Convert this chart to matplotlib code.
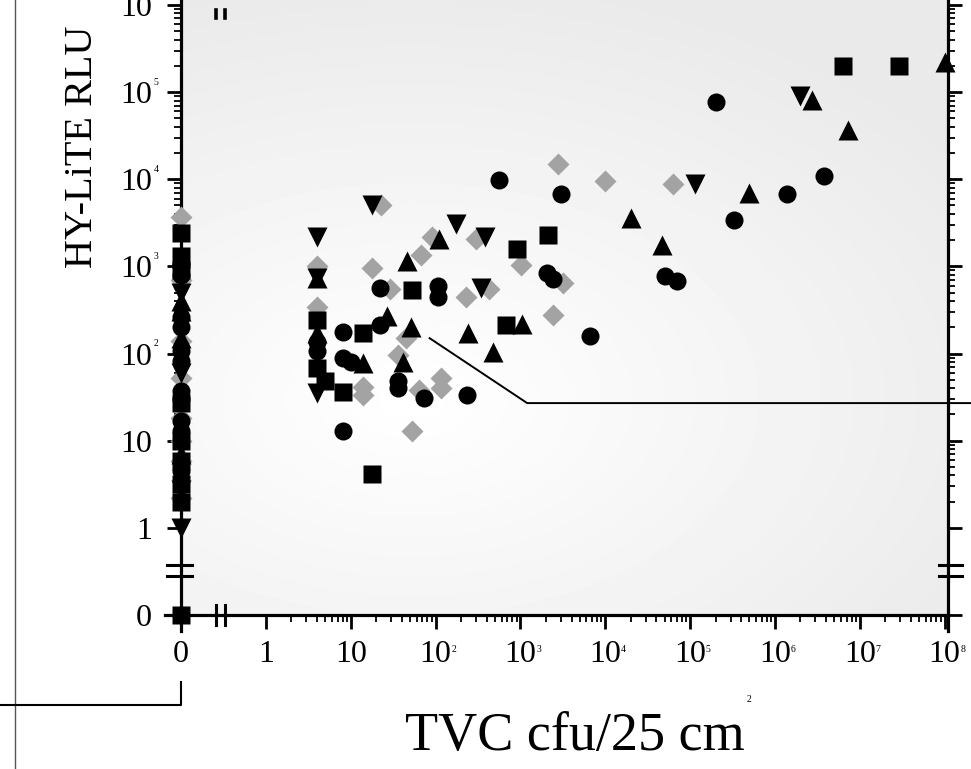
import numpy as np
import matplotlib
matplotlib.use("Agg")
import matplotlib.pyplot as plt
from matplotlib.lines import Line2D
from matplotlib.ticker import FixedLocator, FixedFormatter

plt.rcParams['font.family'] = ['Liberation Serif', 'DejaVu Serif']

# ---------------- data (TVC cfu/25 cm2 , HY-LiTE RLU) ----------------
circle_x = [0, 0, 0, 0, 0, 0, 0, 0, 0, 0, 0,
            4, 4, 8, 8, 10, 8, 22, 22, 36, 36, 73, 107, 107, 235,
            560, 3000, 2050, 2400, 6600, 5.0e4, 7.0e4, 2.0e5, 3.3e5, 1.4e6, 3.8e6]
circle_y = [1000, 800, 260, 200, 108, 83, 37, 30, 17, 13, 4.5,
            134, 108, 175, 90, 79, 13, 570, 210, 49, 40, 31, 600, 440, 33,
            9700, 6700, 850, 720, 160, 770, 680, 7.7e4, 3400, 6700, 1.1e4]

square_x = [0, 0, 0, 0, 0, 0, 0, 0, 0,
            4, 4, 5, 8, 14, 53, 18, 900, 2100, 680, 6.3e6, 2.9e7]
square_y = [2400, 1330, 900, 27, 10, 5.9, 3.2, 2.0, 0,
            240, 69, 49, 36, 170, 530, 4.2, 1600, 2300, 210, 2.0e5, 2.0e5]

triup_x = [0, 0, 0, 0,
           4, 4, 27, 51, 14, 41, 46, 110, 240, 480, 1050,
           2.0e4, 4.7e4, 4.9e5, 2.7e6, 7.2e6, 1.0e8]
triup_y = [400, 310, 150, 7,
           170, 745, 270, 200, 77, 79, 1150, 2050, 170, 105, 220,
           3600, 1750, 6900, 8.2e4, 3.7e4, 2.2e5]

tridown_x = [0, 0, 0, 0,
             4, 4, 4, 18, 175, 385, 345, 1.15e5, 2.0e6]
tridown_y = [490, 60, 2.7, 1.0,
             2200, 745, 35, 5100, 3100, 2150, 560, 8900, 9.0e4]

diamond_x = [0, 0, 0, 0, 0, 0, 0, 0,
             4, 4, 23, 18, 29, 45, 36, 14, 14, 64, 117, 115, 53, 67, 90,
             230, 430, 300, 1020, 2800, 2450, 3200, 1.0e4, 6.3e4]
diamond_y = [3650, 690, 141, 53, 18, 10, 5.9, 2.2,
             1000, 340, 5000, 970, 550, 150, 95, 41, 33, 38, 52, 40, 13, 1340, 2150,
             440, 550, 2050, 1050, 1.5e4, 280, 640, 9500, 8900]

line_x = [85, 1200, 3.0e8]
line_y = [150, 27, 27]

x_ticks = [0, 1, 10, 1e2, 1e3, 1e4, 1e5, 1e6, 1e7, 1e8]
x_ticklabels = ['0', '1', '10', '10', '10', '10', '10', '10', '10', '10']
x_exponents = ['', '', '', '2', '3', '4', '5', '6', '7', '8']
y_ticks = [0, 1, 10, 1e2, 1e3, 1e4, 1e5, 1e6]
y_ticklabels = ['0', '1', '10', '10', '10', '10', '10', '10']
y_exponents = ['', '', '', '2', '3', '4', '5', '6']


# ---------------- broken log scale: 0 sits one decade below 1 ----------------
def fwd(v):
    a = np.atleast_1d(np.asarray(v, dtype=float))
    out = np.empty_like(a)
    pos = a > 0
    out[pos] = np.log10(a[pos])
    out[~pos] = -1.0 + a[~pos]
    return out.reshape(np.shape(v))


def inv(t):
    a = np.atleast_1d(np.asarray(t, dtype=float))
    out = np.empty_like(a)
    hi = a > -1
    out[hi] = 10.0 ** a[hi]
    out[~hi] = a[~hi] + 1.0
    return out.reshape(np.shape(t))


W, H = 971, 769
fig = plt.figure(figsize=(W / 100, H / 100), dpi=100)
ax_left, ax_right, ax_top, ax_bot = 165, 948, 0, 631
ax = fig.add_axes([ax_left / W, 1 - ax_bot / H, (ax_right - ax_left) / W, (ax_bot - ax_top) / H])

ax.set_xscale('function', functions=(fwd, inv))
ax.set_yscale('function', functions=(fwd, inv))
xt0, xt1 = -1.19, 8.04
yt0, yt1 = -1.184, 6.057
ax.set_xlim(inv(xt0), inv(xt1))
ax.set_ylim(inv(yt0), inv(yt1))

# background shading of the plotting area
fx0 = (-1 - xt0) / (xt1 - xt0)
fy0 = (-1 - yt0) / (yt1 - yt0)
u = np.linspace(0, 1, 200)
vv = np.linspace(0, 1, 200)
U, V = np.meshgrid(u, vv)
d = np.sqrt(((U - 0.3) / 0.9) ** 2 + ((V - 0.35) / 0.7) ** 2)
bright = 1 - 0.085 * np.clip(d, 0, 1)
ax.imshow(bright, cmap='gray', vmin=0, vmax=1, origin='lower', aspect='auto',
          extent=[fx0, 1, fy0, 1], transform=ax.transAxes, zorder=0, interpolation='bilinear')
ax.set_xlim(inv(xt0), inv(xt1))
ax.set_ylim(inv(yt0), inv(yt1))

# data
gray = '#a3a3a3'
ax.plot(diamond_x, diamond_y, 'D', color=gray, ms=11, mec='none', zorder=3, clip_on=False)
ax.plot(circle_x, circle_y, 'o', color='black', ms=13, mec='none', zorder=4, clip_on=False)
ax.plot(square_x, square_y, 's', color='black', ms=12.5, mec='none', zorder=4, clip_on=False)
ax.plot(triup_x, triup_y, '^', color='black', ms=14, mec='none', zorder=4, clip_on=False)
ax.plot(tridown_x, tridown_y, 'v', color='black', ms=14, mec='none', zorder=4, clip_on=False)
ax.plot(line_x, line_y, '-', color='black', lw=1.4, zorder=2, clip_on=False)

# spines
for s in ['left', 'bottom', 'right']:
    ax.spines[s].set_linewidth(2.3)
ax.spines['left'].set_position(('data', 0))
ax.spines['bottom'].set_position(('data', 0))
ax.spines['top'].set_visible(False)

# ticks
x_minor = [k * 10.0 ** e for e in range(0, 8) for k in range(2, 10)]
y_minor = [k * 10.0 ** e for e in range(0, 6) for k in range(2, 10)]
ax.xaxis.set_major_locator(FixedLocator(x_ticks))
ax.xaxis.set_major_formatter(FixedFormatter(x_ticklabels))
ax.xaxis.set_minor_locator(FixedLocator(x_minor))
ax.yaxis.set_major_locator(FixedLocator(y_ticks))
ax.yaxis.set_major_formatter(FixedFormatter(y_ticklabels))
ax.yaxis.set_minor_locator(FixedLocator(y_minor))
ax.xaxis.set_minor_formatter(FixedFormatter([]))
ax.yaxis.set_minor_formatter(FixedFormatter([]))
ax.tick_params(axis='both', which='major', direction='out', length=10, width=2.0, labelsize=23)
ax.tick_params(axis='both', which='minor', direction='out', length=5, width=1.3)
ax.tick_params(axis='x', which='major', pad=8)
ax.tick_params(axis='y', which='both', left=True, right=True, labelright=False)
ax.tick_params(axis='y', which='major', pad=11)

for v, e in zip(x_ticks, x_exponents):
    if e:
        ax.annotate(e, xy=(v, 0), xycoords='data', xytext=(13, -25), textcoords='offset points',
                    fontsize=7, ha='center', va='center', annotation_clip=False)
for v, e in zip(y_ticks, y_exponents):
    if e:
        ax.annotate(e, xy=(0, v), xycoords='data', xytext=(-18, 7), textcoords='offset points',
                    fontsize=7, ha='center', va='center', annotation_clip=False)

# axis breaks
brk_x = [0.26, 0.33]
for bx in brk_x:
    ax.plot([bx, bx], [-0.12, 0.13], color='black', lw=2.2, clip_on=False, zorder=5)
    ax.plot([bx, bx], [10 ** 5.85, 10 ** 5.94], color='black', lw=2.6, clip_on=False, zorder=5)
brk_y = [0.37, 0.28]
for by in brk_y:
    ax.plot([-0.17, 0.134], [by, by], color='black', lw=2.2, clip_on=False, zorder=5)
    ax.plot([8.5e7, 1.6e8], [by, by], color='black', lw=2.2, clip_on=False, zorder=5)

# labels
ax.set_ylabel('HY-LiTE RLU', fontsize=29)
ax.yaxis.set_label_coords((101 - ax_left) / (ax_right - ax_left), 1 - 147 / ax_bot)
ax.set_xlabel('TVC cfu/25 cm', fontsize=39)
ax.xaxis.label.set_va('baseline')
ax.xaxis.set_label_coords((575 - ax_left) / (ax_right - ax_left), -(750 - ax_bot) / ax_bot)
fig.text(749 / W, 1 - 700 / H, '2', fontsize=7, ha='center', va='center')

# scan frame lines
fig.add_artist(Line2D([15 / W, 15 / W], [0, 1], color='#555555', lw=1.0))
fig.add_artist(Line2D([0, 181 / W, 181 / W], [1 - 705 / H, 1 - 705 / H, 1 - 682 / H], color='black', lw=1.5))

fig.savefig('out.png', dpi=100)
